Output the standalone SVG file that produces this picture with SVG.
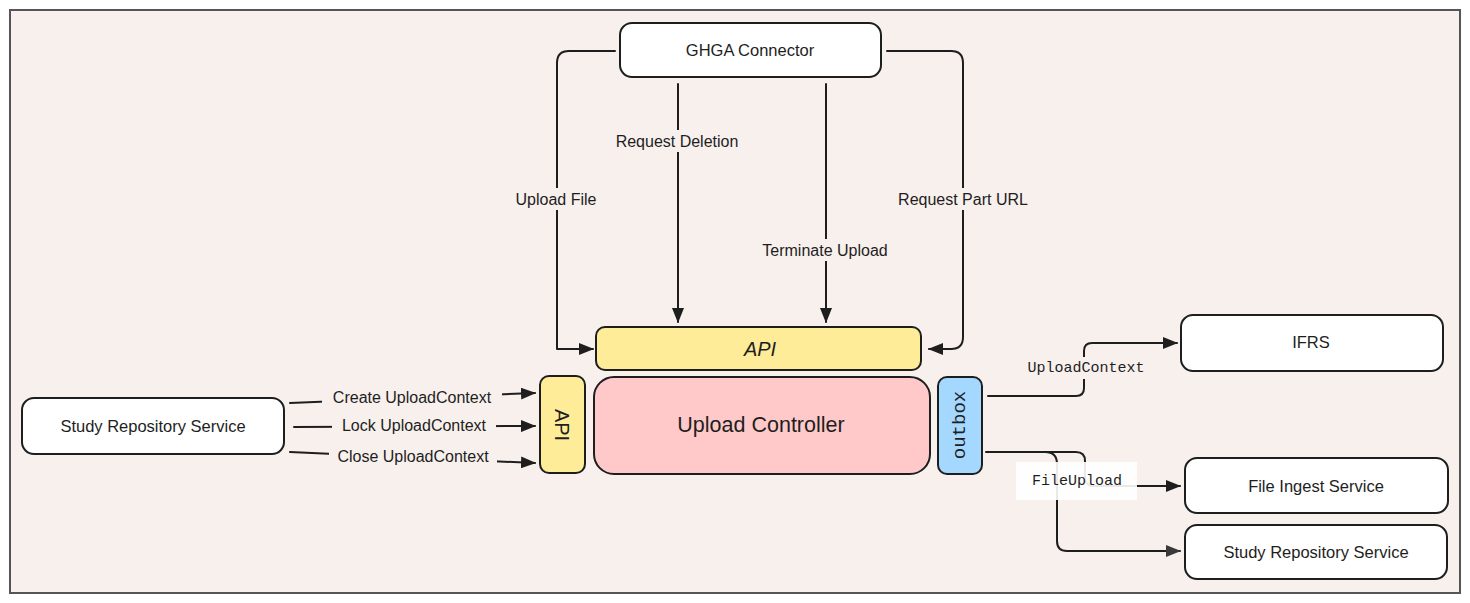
<svg xmlns="http://www.w3.org/2000/svg" width="1470" height="603" viewBox="0 0 1470 603">
<style>
.box{stroke:#1e1e1e;stroke-width:2;}
.t{font-family:"Liberation Sans",Arial,sans-serif;fill:#1e1e1e;text-anchor:middle;dominant-baseline:central;}
.m{font-family:"Liberation Mono","Courier New",monospace;fill:#1e1e1e;text-anchor:middle;dominant-baseline:central;}
.c{fill:none;stroke:#1e1e1e;stroke-width:2;stroke-linecap:round;stroke-linejoin:round;}
.lb{fill:#f8f0ed;}
</style>
<defs>
<marker id="ah" viewBox="0 0 15 12" refX="14" refY="6" markerWidth="15" markerHeight="12" markerUnits="userSpaceOnUse" orient="auto">
<path d="M0,0 L15,6 L0,12 Z" fill="#1e1e1e"/>
</marker>
<marker id="ahg" viewBox="0 0 15 12" refX="14" refY="6" markerWidth="15" markerHeight="12" markerUnits="userSpaceOnUse" orient="auto">
<path d="M0,0 L15,6 L0,12 Z" fill="#3a3a3a"/>
</marker>
</defs>
<rect x="0" y="0" width="1470" height="603" fill="#ffffff"/>
<rect id="frame" x="10" y="10" width="1450" height="583" fill="#f8f0ed" stroke="#555555" stroke-width="2"/>

<g id="connectors">
<path class="c" d="M615,51 H569 Q557,51 557,63 V349 H593" marker-end="url(#ah)"/>
<path class="c" d="M678,84 V322" marker-end="url(#ah)"/>
<path class="c" d="M826,84 V322" marker-end="url(#ah)"/>
<path class="c" d="M887,51 H951 Q963,51 963,63 V337 Q963,349 951,349 H929" marker-end="url(#ah)"/>
<path class="c" d="M290,403 L535,393" marker-end="url(#ah)"/>
<path class="c" d="M294,427 L535,426" marker-end="url(#ah)"/>
<path class="c" d="M290,452 L535,463" marker-end="url(#ah)"/>
<path class="c" d="M988,396 H1076 Q1084,396 1084,388 V351 Q1084,343 1092,343 H1177" marker-end="url(#ah)"/>
<path class="c" d="M986,452 H1076 Q1085,452 1085,461 V477 Q1085,486 1094,486 H1180" marker-end="url(#ah)"/>
<path class="c" d="M1045,452 Q1057,452 1057,464 V541 Q1057,551 1067,551 H1180" stroke="#4a4a4a" marker-end="url(#ahg)"/>
</g>

<g id="edge-labels">
<rect class="lb" x="606" y="130" width="144" height="22"/>
<text class="t" x="677" y="141" font-size="16">Request Deletion</text>
<rect class="lb" x="510" y="188" width="94" height="22"/>
<text class="t" x="556" y="199" font-size="16">Upload File</text>
<rect class="lb" x="752" y="239" width="146" height="22"/>
<text class="t" x="825" y="250" font-size="16">Terminate Upload</text>
<rect class="lb" x="886" y="188" width="154" height="22"/>
<text class="t" x="963" y="199" font-size="16">Request Part URL</text>
<rect class="lb" x="322" y="386" width="180" height="22"/>
<text class="t" x="412" y="397" font-size="16">Create UploadContext</text>
<rect class="lb" x="332" y="414" width="164" height="22"/>
<text class="t" x="414" y="425" font-size="16">Lock UploadContext</text>
<rect class="lb" x="329" y="445" width="168" height="22"/>
<text class="t" x="413" y="456" font-size="16">Close UploadContext</text>
<rect class="lb" x="1028" y="357" width="116" height="22"/>
<text class="m" x="1086" y="368" font-size="15">UploadContext</text>
<rect x="1016" y="462" width="121" height="38" fill="#ffffff" fill-opacity="0.9"/>
<text class="m" x="1077" y="481" font-size="15">FileUpload</text>
</g>

<g id="ghga-connector">
<rect class="box" x="620" y="23" width="261" height="54" rx="12" fill="#ffffff"/>
<text class="t" x="750" y="50" font-size="16.5">GHGA Connector</text>
</g>
<g id="api-top">
<rect class="box" x="596" y="327" width="325" height="43" rx="9" fill="#ffec99"/>
<text class="t" x="760" y="349" font-size="20" font-style="italic">API</text>
</g>
<g id="api-left">
<rect class="box" x="540" y="376" width="45" height="97" rx="9" fill="#ffec99"/>
<text class="t" x="562" y="425" font-size="20" transform="rotate(90 562 425)">API</text>
</g>
<g id="upload-controller">
<rect class="box" x="594" y="377" width="336" height="97" rx="20" fill="#ffc9c9"/>
<text class="t" x="761" y="425" font-size="21.5">Upload Controller</text>
</g>
<g id="outbox">
<rect class="box" x="938" y="377" width="44" height="97" rx="9" fill="#a5d8ff"/>
<text class="m" x="960" y="425" font-size="19" transform="rotate(-90 960 425)">outbox</text>
</g>
<g id="study-repo-left">
<rect class="box" x="22" y="398" width="262" height="56" rx="12" fill="#ffffff"/>
<text class="t" x="153" y="426" font-size="16.5">Study Repository Service</text>
</g>
<g id="ifrs">
<rect class="box" x="1181" y="315" width="262" height="56" rx="12" fill="#ffffff"/>
<text class="t" x="1311" y="342" font-size="16.5">IFRS</text>
</g>
<g id="file-ingest">
<rect class="box" x="1185" y="458" width="263" height="55" rx="12" fill="#ffffff"/>
<text class="t" x="1316" y="486" font-size="16.5">File Ingest Service</text>
</g>
<g id="study-repo-right">
<rect class="box" x="1185" y="525" width="262" height="54" rx="12" fill="#ffffff"/>
<text class="t" x="1316" y="552" font-size="16.5">Study Repository Service</text>
</g>
</svg>
